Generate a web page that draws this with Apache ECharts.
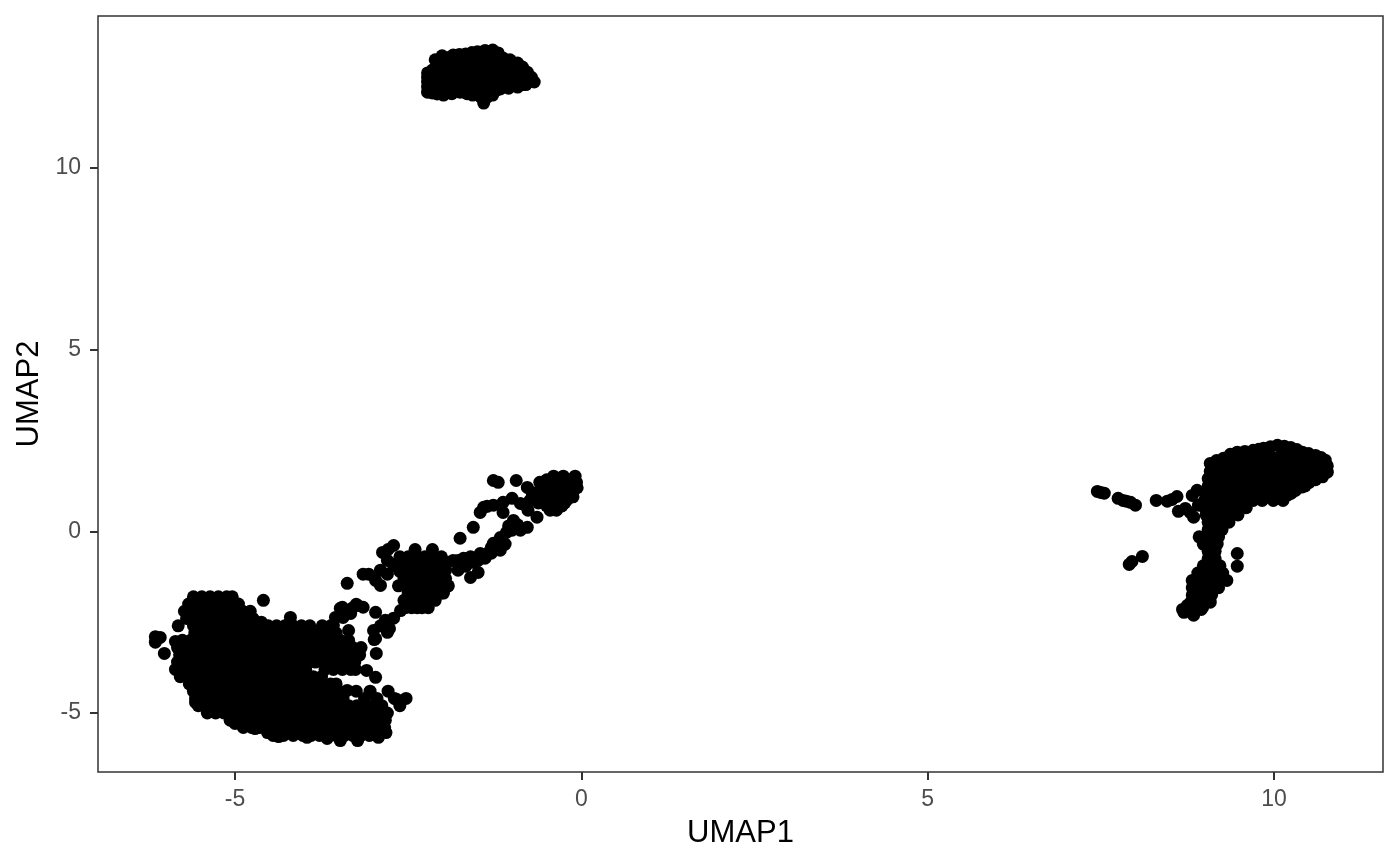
<!DOCTYPE html>
<html>
<head>
<meta charset="utf-8">
<style>html,body{margin:0;padding:0;background:#fff}#c{width:1400px;height:865px}</style>
<script src="https://cdn.jsdelivr.net/npm/echarts@6/dist/echarts.min.js"></script>
</head>
<body>
<div id="c"></div>
<script>
const xTicks = [-5, 0, 5, 10];
const yTicks = [-5, 0, 5, 10];
const xTitle = 'UMAP1';
const yTitle = 'UMAP2';

// Rows: [UMAP2, [UMAP1 values]]
const lowerBlobRows = [
 [-1.8,[-5.6,-5.48,-5.36,-5.24,-5.12,-5.04]],
 [-2.0,[-5.67,-5.55,-5.43,-5.31,-5.19,-5.07,-4.95]],
 [-2.2,[-5.73,-5.61,-5.49,-5.37,-5.25,-5.13,-5.01,-4.89,-4.78]],
 [-2.4,[-5.7,-5.58,-5.46,-5.34,-5.22,-5.1,-4.98,-4.86,-4.74]],
 [-2.6,[-5.82,-5.6,-5.48,-5.36,-5.24,-5.12,-5,-4.88,-4.76,-4.64,-4.52,-4.4,-4.28,-4.16,-4.04,-3.92,-3.74,-3.62]],
 [-2.8,[-5.58,-5.46,-5.34,-5.22,-5.1,-4.98,-4.86,-4.74,-4.62,-4.5,-4.38,-4.26,-4.14,-4.02,-3.9,-3.78,-3.66,-3.54]],
 [-3.0,[-5.76,-5.64,-5.52,-5.4,-5.28,-5.16,-5.04,-4.92,-4.8,-4.68,-4.56,-4.44,-4.32,-4.2,-4.08,-3.96,-3.84,-3.72,-3.6,-3.48,-3.36]],
 [-3.2,[-5.83,-5.7,-5.58,-5.46,-5.34,-5.22,-5.1,-4.98,-4.86,-4.74,-4.62,-4.5,-4.38,-4.26,-4.14,-4.02,-3.9,-3.78,-3.66,-3.54,-3.42,-3.3,-3.18]],
 [-3.4,[-5.8,-5.68,-5.56,-5.44,-5.32,-5.2,-5.08,-4.96,-4.84,-4.72,-4.6,-4.48,-4.36,-4.24,-4.12,-4,-3.88,-3.76,-3.64,-3.52,-3.4,-3.28,-3.2]],
 [-3.6,[-5.83,-5.7,-5.58,-5.46,-5.34,-5.22,-5.1,-4.98,-4.86,-4.74,-4.62,-4.5,-4.38,-4.26,-4.14,-4.05,-3.94,-3.84,-3.72,-3.62,-3.5,-3.38,-3.27]],
 [-3.8,[-5.86,-5.74,-5.62,-5.5,-5.38,-5.26,-5.14,-5.02,-4.9,-4.78,-4.66,-4.54,-4.42,-4.3,-4.18,-4.06,-3.98,-3.7,-3.58,-3.45,-3.33,-3.26]],
 [-4.0,[-5.79,-5.67,-5.55,-5.43,-5.31,-5.19,-5.07,-4.95,-4.83,-4.71,-4.59,-4.47,-4.35,-4.23,-4.11,-3.99,-3.87,-3.75]],
 [-4.2,[-5.66,-5.54,-5.42,-5.3,-5.18,-5.06,-4.94,-4.82,-4.7,-4.58,-4.46,-4.34,-4.22,-4.1,-3.98,-3.86,-3.74,-3.62,-3.54]],
 [-4.4,[-5.6,-5.48,-5.36,-5.24,-5.12,-5,-4.88,-4.76,-4.64,-4.52,-4.4,-4.28,-4.16,-4.04,-3.92,-3.8,-3.68,-3.56,-3.5,-3.25,-3.05,-2.79]],
 [-4.6,[-5.57,-5.44,-5.32,-5.2,-5.08,-4.96,-4.84,-4.72,-4.6,-4.48,-4.36,-4.24,-4.12,-4,-3.88,-3.76,-3.64,-3.52,-3.44,-3.13,-2.95,-2.7,-2.53]],
 [-4.8,[-5.53,-5.4,-5.28,-5.16,-5.04,-4.92,-4.8,-4.68,-4.56,-4.44,-4.32,-4.2,-4.08,-3.96,-3.84,-3.72,-3.6,-3.48,-3.36,-3.24,-3.12,-3,-2.88,-2.62]],
 [-5.0,[-5.4,-5.28,-5.16,-5.04,-4.92,-4.8,-4.68,-4.56,-4.44,-4.32,-4.2,-4.08,-3.96,-3.84,-3.72,-3.6,-3.48,-3.36,-3.24,-3.12,-3,-2.88,-2.8]],
 [-5.2,[-5.07,-4.96,-4.84,-4.72,-4.6,-4.48,-4.36,-4.24,-4.12,-4,-3.88,-3.76,-3.64,-3.52,-3.4,-3.28,-3.16,-3.04,-2.92,-2.83]],
 [-5.4,[-4.88,-4.76,-4.64,-4.52,-4.4,-4.28,-4.16,-4.04,-3.92,-3.8,-3.68,-3.56,-3.44,-3.32,-3.2,-3.08,-2.96,-2.84]],
 [-5.62,[-4.45,-4.3,-4.16,-4.02,-3.9,-3.78,-3.66,-3.54,-3.42,-3.3,-3.18,-3.06,-2.94]]
];

const lowerBlobExtras = [[-4.59,-1.9],[-4.2,-2.37],[-4.62,-2.5],[-6.15,-2.9],[-6.08,-2.92],[-6.15,-3.05],[-5.86,-3.03],[-6.02,-3.36],[-3.1,-3.83],[-2.97,-4.02],[-3.38,-4.38],[-2.67,-4.62],[-2.62,-4.72],
 [-5.57,-4.71],[-5.4,-4.93],[-5.21,-4.96],[-5.0,-5.29],[-4.71,-5.43],[-4.53,-5.54],[-4.37,-5.65],[-3.96,-5.67],[-3.67,-5.7],[-3.48,-5.76],[-3.23,-5.76],[-2.93,-5.67],[-2.82,-5.54]];

const branchPoints = [[-3.38,-1.43],[-3.15,-1.18],[-3.07,-1.18],[-2.97,-1.35],[-2.9,-1.49],[-2.9,-1.07],[-2.8,-0.8],[-2.87,-0.58],[-2.71,-0.39],[-2.79,-0.5],[-2.71,-0.94],[-2.8,-1.18],
 [-3.0,-2.73],[-2.8,-2.78],[-2.97,-2.95],[-2.9,-2.6],[-2.99,-2.98],[-2.96,-3.36],[-3.15,-2.09],[-3.25,-2.01],[-3.33,-2.26],[-3.45,-2.09],[-3.31,-2.12],[-3.58,-2.59],[-3.36,-2.73],[-3.55,-2.37],[-3.48,-2.12],[-3.23,-2.04],[-3.44,-2.37],[-3.62,-2.64],[-2.97,-2.23],[-2.83,-2.45],[-2.71,-2.39],[-2.61,-2.18],[-2.77,-2.68],
 [-1.93,-0.85],[-1.85,-0.8],[-1.78,-0.8],[-1.7,-0.74],[-1.78,-1.07],[-1.6,-1.27],[-1.49,-1.13],[-1.96,-1.07],[-1.67,-0.96],[-1.57,-0.85],[-1.49,-0.8],[-1.46,-0.61],[-1.36,-0.61],[-1.27,-0.33],[-1.17,-0.52],[-1.17,-0.17],[-1.0,0.03],[-0.88,0.03],[-0.78,0.11],[-0.98,0.3],[-1.08,-0.03],[-1.26,-0.5],[-1.39,-0.74],[-1.56,0.11],[-1.75,-0.19],[-0.92,0.18],
 [-1.46,0.52],[-1.41,0.66],[-1.27,0.72],[-1.36,0.69],[-1.13,0.8],[-1.0,0.91],[-0.88,0.77],[-1.13,0.52],[-0.77,0.58],[-0.64,0.39],[-0.78,1.21],[-1.27,1.4],[-1.2,1.35],[-0.94,1.4],[-0.74,0.85],[-0.81,0.72],[-0.64,1.05],[-0.71,1.07],[-0.52,0.85],
 [-1.05,0.15],[-1.2,-0.3],[-1.3,-0.45],[-1.1,-0.35],[-1.6,-0.7],[-1.3,-0.6]];

const branchKnotRows = [
 [-0.5,[-2.4,-2.15]],
 [-0.7,[-2.62,-2.5,-2.38,-2.26,-2.14,-2.02]],
 [-0.9,[-2.68,-2.56,-2.44,-2.32,-2.2,-2.08,-1.96]],
 [-1.1,[-2.62,-2.5,-2.38,-2.26,-2.14,-2.02]],
 [-1.3,[-2.56,-2.44,-2.32,-2.2,-2.08,-1.96]],
 [-1.5,[-2.64,-2.5,-2.38,-2.26,-2.14,-2.02,-1.92]],
 [-1.7,[-2.5,-2.38,-2.26,-2.14,-2.02,-1.99]],
 [-1.9,[-2.56,-2.44,-2.32,-2.2,-2.11]],
 [-2.1,[-2.54,-2.45,-2.37,-2.3,-2.21]]
];

const tipRows = [
 [1.52,[-0.4,-0.26,-0.09]],
 [1.42,[-0.5,-0.33,-0.18]],
 [1.35,[-0.6,-0.48,-0.36,-0.24,-0.12,-0.07]],
 [1.2,[-0.54,-0.42,-0.3,-0.18,-0.06]],
 [1.05,[-0.6,-0.48,-0.36,-0.24,-0.13]],
 [0.95,[-0.7,-0.5,-0.3,-0.12]],
 [0.88,[-0.56,-0.44,-0.32,-0.2]],
 [0.78,[-0.62,-0.4,-0.24]],
 [0.7,[-0.5,-0.38,-0.28]],
 [0.58,[-0.45,-0.36]]
];

const rightWingRows = [
 [2.05,[9.35,9.47,9.59,9.71,9.83,9.95,10.07,10.19,10.31,10.43,10.55]],
 [1.85,[9.14,9.26,9.38,9.5,9.62,9.74,9.86,9.98,10.1,10.22,10.34,10.46,10.58,10.7]],
 [1.65,[9.08,9.2,9.32,9.44,9.56,9.68,9.8,9.92,10.04,10.16,10.28,10.4,10.52,10.64,10.76]],
 [1.45,[9.05,9.17,9.29,9.41,9.53,9.65,9.77,9.89,10.01,10.13,10.25,10.37,10.49,10.6]],
 [1.25,[9.05,9.17,9.29,9.41,9.53,9.65,9.77,9.89,10.01,10.13,10.25,10.37,10.45]],
 [1.05,[9.02,9.14,9.26,9.38,9.5,9.62,9.74,9.86,9.98,10.1,10.25]],
 [0.85,[9.0,9.12,9.24,9.36,9.48,9.6,9.7,9.83,9.99,10.13]],
 [0.65,[9.0,9.12,9.24,9.36,9.48,9.6]],
 [0.45,[9.02,9.14,9.26,9.38,9.48]],
 [0.25,[9.05,9.17,9.29,9.35]],
 [0.05,[9.05,9.15,9.25]],
 [-0.15,[8.92,9.02,9.12,9.2]],
 [-0.35,[8.98,9.08,9.18]],
 [-0.55,[9.05,9.15]],
 [-0.75,[9.05,9.15]],
 [-0.95,[8.98,9.1,9.22]],
 [-1.15,[8.9,9.02,9.14,9.26]],
 [-1.35,[8.82,8.94,9.06,9.18,9.32]],
 [-1.55,[8.82,8.94,9.06,9.2]],
 [-1.75,[8.82,8.94,9.02,9.1]],
 [-1.95,[8.8,8.9,9.0,9.08]],
 [-2.15,[8.75,8.85,8.95]]
];

const rightExtras = [[7.45,1.1],[7.5,1.07],[7.55,1.05],[7.75,0.91],[7.82,0.85],[7.87,0.83],[7.93,0.8],[8.0,0.72],[8.3,0.85],[8.46,0.83],[8.53,0.88],[8.6,0.96],[8.82,0.99],[8.89,1.13],[8.62,0.55],[8.72,0.63],[8.84,0.39],[8.79,0.52],[8.91,0.72],[8.1,-0.69],[7.95,-0.83],[7.91,-0.91],[9.47,-0.61],[9.47,-0.96],
 [9.08,1.87],[9.27,2.01],[9.47,2.18],[9.7,2.23],[9.85,2.29],[10.05,2.37],[10.24,2.31],[10.41,2.18],[10.6,2.09],[10.74,1.96],[10.77,1.63],[10.51,1.35],[10.31,1.13],[8.7,-2.23],[8.84,-2.31],[8.75,-2.04],[8.97,-2.09],[8.68,-2.15],
 [9.17,1.95],[9.37,2.12],[9.58,2.2],[9.78,2.26],[9.95,2.33],[10.15,2.34],[10.33,2.25],[10.5,2.14],[10.68,2.03],[10.77,1.8],[10.7,1.5],[10.6,1.42],[10.4,1.22],[10.2,1.0]];

const topClusterRows = [
 [13.05,[-1.9,-1.78,-1.66,-1.54,-1.42,-1.3,-1.2]],
 [12.9,[-2.05,-1.93,-1.81,-1.69,-1.57,-1.45,-1.33,-1.21,-1.09,-0.98]],
 [12.7,[-2.15,-2.03,-1.91,-1.79,-1.67,-1.55,-1.43,-1.31,-1.19,-1.07,-0.95,-0.85]],
 [12.5,[-2.15,-2.03,-1.91,-1.79,-1.67,-1.55,-1.43,-1.31,-1.19,-1.07,-0.95,-0.83,-0.75]],
 [12.3,[-2.15,-2.03,-1.91,-1.79,-1.67,-1.55,-1.43,-1.31,-1.19,-1.07,-0.95,-0.85]],
 [12.15,[-2.05,-1.93,-1.81,-1.69,-1.57,-1.45,-1.33,-1.22]]
];

const topClusterExtras = [[-1.28,13.25],[-1.5,13.2],[-1.67,13.14],[-1.85,13.11],[-2.01,13.09],[-2.11,12.98],[-2.22,12.62],[-2.22,12.37],[-2.22,12.09],[-2.15,12.07],[-1.99,12.01],[-1.75,12.09],[-1.57,12.01],[-1.41,11.79],[-1.45,11.95],[-1.36,11.95],[-1.28,12.01],[-1.17,12.18],[-0.92,12.23],[-0.68,12.37],[-0.78,12.64],[-0.92,12.89],[-1.13,13.03],
 [-1.76,13.13],[-1.58,13.18],[-1.39,13.24],[-1.2,13.17],[-1.03,12.98],[-0.85,12.78],[-0.72,12.5],[-0.8,12.3],[-1.05,12.2],[-1.65,12.05],[-1.87,12.05],[-2.08,12.04],[-2.22,12.23],[-2.22,12.5]];

const fromRows = rows => rows.flatMap(([y, xs]) => xs.map(x => [x, y]));
const points = [
  ...fromRows(lowerBlobRows), ...lowerBlobExtras,
  ...branchPoints, ...fromRows(branchKnotRows), ...fromRows(tipRows),
  ...fromRows(rightWingRows), ...rightExtras,
  ...fromRows(topClusterRows), ...topClusterExtras
];

const FONT = '"Liberation Sans", Arial, Helvetica, sans-serif';
const chart = echarts.init(document.getElementById('c'), null, {renderer: 'canvas'});
chart.setOption({
  animation: false,
  backgroundColor: '#ffffff',
  grid: {left: 98, right: 17, top: 16, bottom: 93, show: true, borderColor: '#333333', borderWidth: 1.5, backgroundColor: 'transparent'},
  xAxis: {
    type: 'value', min: -6.978, max: 11.574,
    name: xTitle, nameLocation: 'middle', nameGap: 46,
    nameTextStyle: {fontFamily: FONT, fontSize: 31, color: '#000'},
    splitLine: {show: false},
    axisLine: {show: false, onZero: false},
    axisTick: {show: true, length: 8, lineStyle: {color: '#333333', width: 2}, customValues: xTicks},
    axisLabel: {fontFamily: FONT, fontSize: 23, color: '#4d4d4d', margin: 16, customValues: xTicks, formatter: v => String(v)}
  },
  yAxis: {
    type: 'value', min: -6.625, max: 14.187,
    name: yTitle, nameLocation: 'middle', nameGap: 53, nameRotate: 90,
    nameTextStyle: {fontFamily: FONT, fontSize: 31, color: '#000'},
    splitLine: {show: false},
    axisLine: {show: false, onZero: false},
    axisTick: {show: true, length: 8, lineStyle: {color: '#333333', width: 2}, customValues: yTicks},
    axisLabel: {fontFamily: FONT, fontSize: 23, color: '#4d4d4d', margin: 17, padding: [5, 0, 0, 0], customValues: yTicks, formatter: v => String(v)}
  },
  series: [{type: 'scatter', data: points, symbol: 'circle', symbolSize: 13, itemStyle: {color: '#000', opacity: 1}, silent: true, clip: false, large: false}]
});
</script>
</body>
</html>
